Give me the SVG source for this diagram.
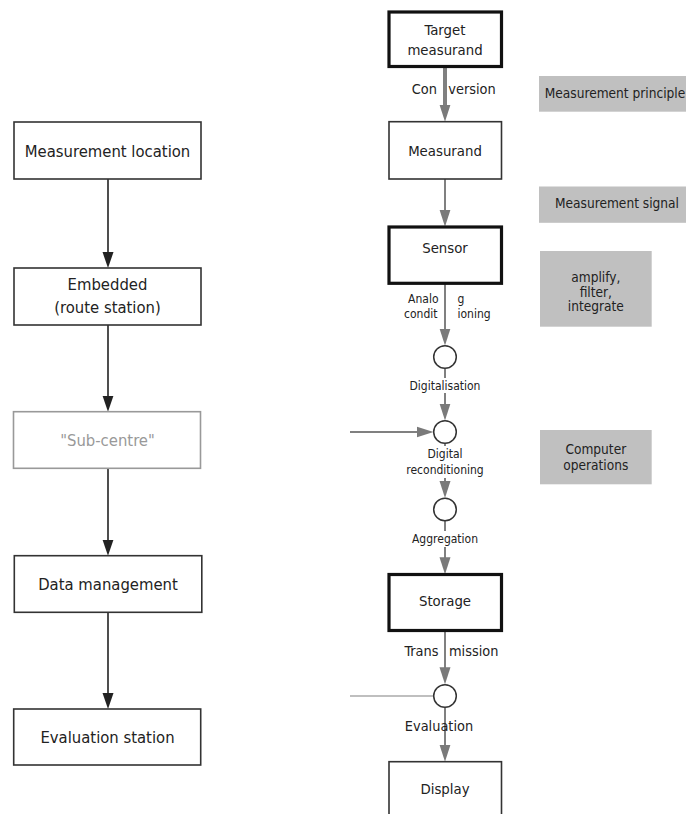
<svg xmlns="http://www.w3.org/2000/svg" width="686" height="814" viewBox="0 0 686 814">
<style>
text{font-family:"DejaVu Sans Condensed","DejaVu Sans","Liberation Sans",sans-serif;fill:#222}
.lb{font-size:16.5px;text-anchor:middle}
.rb{font-size:14.8px;text-anchor:middle}
.cl{font-size:14.4px}
.sl{font-size:12px}
.gb{font-size:13.6px;text-anchor:middle}
.mid{text-anchor:middle}
.end{text-anchor:end}
.box{fill:#fff;stroke:#333;stroke-width:1.6}
.thick{fill:#fff;stroke:#111;stroke-width:3.2}
.grey{fill:#c0c0c0;stroke:none}
.sub{fill:#fff;stroke:#999;stroke-width:1.6}
.node{fill:#fff;stroke:#333;stroke-width:1.5}
.blk{stroke:#222;stroke-width:1.6;fill:none}
.gl{stroke:#808080;stroke-width:2;fill:none}
.feed{stroke:#aaa;stroke-width:1.6;fill:none}
.bg{fill:#fff}
</style>
<defs>
<marker id="ab" markerUnits="userSpaceOnUse" markerWidth="16" markerHeight="12" refX="10" refY="6" orient="auto" viewBox="0 0 16 12">
<path d="M0,0.5 L16,6 L0,11.5 z" fill="#222"/>
</marker>
<marker id="ag" markerUnits="userSpaceOnUse" markerWidth="17" markerHeight="12" refX="7" refY="6" orient="auto" viewBox="0 0 17 12">
<path d="M0,0.5 L17,6 L0,11.5 z" fill="#7a7a7a"/>
</marker>
</defs>

<g id="connectors">
<!-- left column -->
<line class="blk" x1="108" y1="179" x2="108" y2="262" marker-end="url(#ab)"/>
<line class="blk" x1="108" y1="325" x2="108" y2="405.7" marker-end="url(#ab)"/>
<line class="blk" x1="108" y1="468.3" x2="108" y2="549.7" marker-end="url(#ab)"/>
<line class="blk" x1="108" y1="612.3" x2="108" y2="703" marker-end="url(#ab)"/>
<!-- right column -->
<line class="gl" style="stroke-width:4" x1="445" y1="66.7" x2="445" y2="111.7" marker-end="url(#ag)"/>
<line class="gl" x1="445" y1="179" x2="445" y2="216.7" marker-end="url(#ag)"/>
<line class="gl" x1="445" y1="283.3" x2="445" y2="335.5" marker-end="url(#ag)"/>
<line class="gl" x1="445" y1="368.5" x2="445" y2="410.5" marker-end="url(#ag)"/>
<line class="gl" x1="350" y1="432" x2="423.5" y2="432" marker-end="url(#ag)"/>
<line class="gl" x1="445" y1="443.5" x2="445" y2="488" marker-end="url(#ag)"/>
<line class="gl" x1="445" y1="521" x2="445" y2="564.3" marker-end="url(#ag)"/>
<line class="gl" x1="445" y1="630.7" x2="445" y2="674.3" marker-end="url(#ag)"/>
<line class="feed" x1="350" y1="696" x2="433.5" y2="696"/>
<line class="gl" x1="445" y1="707.2" x2="445" y2="751.7" marker-end="url(#ag)"/>
<!-- connector labels -->
<text class="cl end" x="437" y="93.5">Con</text>
<text class="cl" x="448.3" y="93.5">version</text>
<text class="sl end" x="438.5" y="303">Analo</text>
<text class="sl" x="457.5" y="303">g</text>
<text class="sl end" x="437.5" y="318">condit</text>
<text class="sl" x="457.5" y="318">ioning</text>
<rect class="bg" x="407" y="378" width="76" height="15"/>
<text class="sl mid" x="445" y="389.5">Digitalisation</text>
<rect class="bg" x="405" y="446" width="82" height="32"/>
<text class="sl mid" x="445" y="457.5">Digital</text>
<text class="sl mid" x="445" y="473.5">reconditioning</text>
<rect class="bg" x="410" y="531" width="70" height="16"/>
<text class="sl mid" x="445" y="543">Aggregation</text>
<text class="cl end" x="438.5" y="656">Trans</text>
<text class="cl" x="449" y="656">mission</text>
<text class="cl mid" x="439" y="731">Evaluation</text>
</g>

<g id="measurement-location">
<rect class="box" x="14" y="122" width="187" height="57"/>
<text class="lb" x="107.5" y="156.5">Measurement location</text>
</g>
<g id="embedded">
<rect class="box" x="14" y="268" width="187" height="57"/>
<text class="lb" x="107.5" y="290">Embedded</text>
<text class="lb" x="107.5" y="313">(route station)</text>
</g>
<g id="sub-centre">
<rect class="sub" x="13.5" y="411.7" width="187" height="56.6"/>
<text class="lb" x="107.5" y="445.5" style="fill:#999">"Sub-centre"</text>
</g>
<g id="data-management">
<rect class="box" x="14.3" y="555.7" width="187.5" height="56.6"/>
<text class="lb" x="108" y="589.5">Data management</text>
</g>
<g id="evaluation-station">
<rect class="box" x="13.7" y="709" width="187" height="56"/>
<text class="lb" x="107.5" y="743">Evaluation station</text>
</g>

<g id="target-measurand">
<rect class="thick" x="389" y="12" width="112.5" height="54.5"/>
<text class="rb" x="445" y="34.5">Target</text>
<text class="rb" x="445" y="54.5">measurand</text>
</g>
<g id="measurand">
<rect class="box" x="389" y="121.7" width="112.5" height="57.3"/>
<text class="rb" x="445" y="155.5">Measurand</text>
</g>
<g id="sensor">
<rect class="thick" x="389" y="227" width="112.5" height="56.3"/>
<text class="rb" x="445" y="253">Sensor</text>
</g>
<g id="node1"><circle class="node" cx="445" cy="357" r="11.3"/></g>
<g id="node2"><circle class="node" cx="445" cy="432" r="11.3"/></g>
<g id="node3"><circle class="node" cx="445" cy="509.5" r="11.3"/></g>
<g id="storage">
<rect class="thick" x="389" y="574.5" width="112.5" height="56"/>
<text class="rb" x="445" y="605.5">Storage</text>
</g>
<g id="node4"><circle class="node" cx="445" cy="696" r="11.3"/></g>
<g id="display">
<rect class="box" x="389" y="761.7" width="112.5" height="70"/>
<text class="rb" x="445" y="794">Display</text>
</g>

<g id="measurement-principle">
<rect class="grey" x="539" y="76" width="160" height="35.7"/>
<text class="gb" x="615" y="97.5">Measurement principle</text>
</g>
<g id="measurement-signal">
<rect class="grey" x="539" y="186.5" width="160" height="36.3"/>
<text class="gb" x="617" y="208">Measurement signal</text>
</g>
<g id="amplify">
<rect class="grey" x="540" y="251" width="111.7" height="75.7"/>
<text class="gb" x="595.8" y="282">amplify,</text>
<text class="gb" x="595.8" y="296.5">filter,</text>
<text class="gb" x="595.8" y="311">integrate</text>
</g>
<g id="computer-operations">
<rect class="grey" x="540" y="430" width="111.7" height="54.3"/>
<text class="gb" x="595.8" y="453.5">Computer</text>
<text class="gb" x="595.8" y="469.5">operations</text>
</g>
</svg>
